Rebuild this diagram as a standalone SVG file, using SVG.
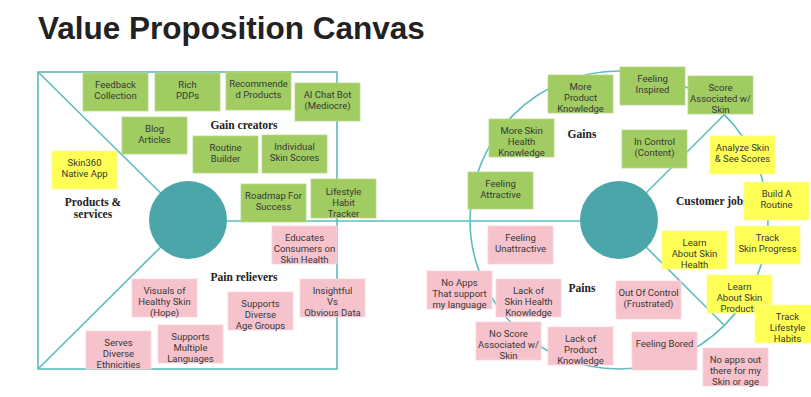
<svg xmlns="http://www.w3.org/2000/svg" width="811" height="397" viewBox="0 0 811 397">
<style>
.ln{fill:none;stroke:#5cbcbf;stroke-width:1.6}
.hub{fill:#4aa6a8}
.g{fill:#a0cc62;stroke:#b6d98a;stroke-width:0.8}
.y{fill:#ffff55;stroke:#fbfb9a;stroke-width:0.8}
.p{fill:#f6c3cc;stroke:#fad5dc;stroke-width:0.8}
.t{font-family:Roboto,"Liberation Sans",sans-serif;font-size:9.5px;fill:#383838;text-anchor:middle}
.lb{font-family:"Liberation Serif",serif;font-weight:bold;font-size:11.5px;fill:#222;text-anchor:middle}
.title{font-family:"Liberation Sans",Arial,sans-serif;font-weight:bold;font-size:31.5px;fill:#222}
</style>
<rect width="811" height="397" fill="#fff"/>
<text class="title" x="38" y="39">Value Proposition Canvas</text>

<g id="connectors">
  <rect class="ln" x="38" y="72" width="299" height="297"/>
  <line class="ln" x1="38" y1="72" x2="188" y2="220"/>
  <line class="ln" x1="38" y1="369" x2="188" y2="220"/>
  <circle class="ln" cx="619" cy="220" r="149"/>
  <line class="ln" x1="227" y1="221" x2="600" y2="221"/>
  <line class="ln" x1="619" y1="220" x2="724" y2="115"/>
  <line class="ln" x1="619" y1="220" x2="724" y2="325"/>
</g>

<g id="value-map-hub"><circle class="hub" cx="188" cy="220" r="39"/></g>
<g id="customer-hub"><circle class="hub" cx="619" cy="220" r="39"/></g>

<g id="labels">
  <text class="lb" x="244" y="128.5">Gain creators</text>
  <text class="lb" x="93" y="205.5">Products &amp;</text>
  <text class="lb" x="93" y="218">services</text>
  <text class="lb" x="244" y="281">Pain relievers</text>
  <text class="lb" x="582" y="137.5">Gains</text>
  <text class="lb" x="582" y="291.5">Pains</text>
  <text class="lb" x="676" y="205" style="text-anchor:start">Customer jobs</text>
</g>

<!-- Gain creators -->
<g id="feedback-collection"><rect class="g" x="83" y="73" width="65" height="38"/><text class="t"><tspan x="115.5" y="87.5">Feedback</tspan><tspan x="115.5" y="98.8">Collection</tspan></text></g>
<g id="rich-pdps"><rect class="g" x="155" y="73" width="65" height="38"/><text class="t"><tspan x="187.5" y="87.5">Rich</tspan><tspan x="187.5" y="98.8">PDPs</tspan></text></g>
<g id="recommended-products"><rect class="g" x="226" y="72" width="65" height="38"/><text class="t"><tspan x="258.5" y="86.5">Recommende</tspan><tspan x="258.5" y="97.8">d Products</tspan></text></g>
<g id="ai-chat-bot"><rect class="g" x="295" y="83" width="65" height="38"/><text class="t"><tspan x="327.5" y="97.5">AI Chat Bot</tspan><tspan x="327.5" y="108.8">(Mediocre)</tspan></text></g>
<g id="blog-articles"><rect class="g" x="122" y="117" width="65" height="37"/><text class="t"><tspan x="154.5" y="131.5">Blog</tspan><tspan x="154.5" y="142.8">Articles</tspan></text></g>
<g id="routine-builder"><rect class="g" x="193" y="136" width="65" height="37"/><text class="t"><tspan x="225.5" y="150.5">Routine</tspan><tspan x="225.5" y="161.8">Builder</tspan></text></g>
<g id="individual-skin-scores"><rect class="g" x="262" y="135" width="65" height="38"/><text class="t"><tspan x="294.5" y="149.5">Individual</tspan><tspan x="294.5" y="160.8">Skin Scores</tspan></text></g>
<g id="roadmap-for-success"><rect class="g" x="241" y="184" width="65" height="38"/><text class="t"><tspan x="273.5" y="198.5">Roadmap For</tspan><tspan x="273.5" y="209.8">Success</tspan></text></g>
<g id="lifestyle-habit-tracker"><rect class="g" x="311" y="179" width="65" height="39"/><text class="t"><tspan x="343.5" y="194.5">Lifestyle</tspan><tspan x="343.5" y="205.8">Habit</tspan><tspan x="343.5" y="217.1">Tracker</tspan></text></g>

<!-- Products & services -->
<g id="skin360-native-app"><rect class="y" x="52" y="151" width="65" height="38"/><text class="t"><tspan x="84.5" y="165.5">Skin360</tspan><tspan x="84.5" y="176.8">Native App</tspan></text></g>

<!-- Pain relievers -->
<g id="educates-consumers"><rect class="p" x="272" y="226" width="65" height="38"/><text class="t"><tspan x="304.5" y="240.5">Educates</tspan><tspan x="304.5" y="251.8">Consumers on</tspan><tspan x="304.5" y="263.1">Skin Health</tspan></text></g>
<g id="visuals-healthy-skin"><rect class="p" x="132" y="279" width="65" height="38"/><text class="t"><tspan x="164.5" y="293.5">Visuals of</tspan><tspan x="164.5" y="304.8">Healthy Skin</tspan><tspan x="164.5" y="316.1">(Hope)</tspan></text></g>
<g id="supports-diverse-age"><rect class="p" x="228" y="292" width="65" height="38"/><text class="t"><tspan x="260.5" y="306.5">Supports</tspan><tspan x="260.5" y="317.8">Diverse</tspan><tspan x="260.5" y="329.1">Age Groups</tspan></text></g>
<g id="insightful-data"><rect class="p" x="300" y="279" width="65" height="38"/><text class="t"><tspan x="332.5" y="293.5">Insightful</tspan><tspan x="332.5" y="304.8">Vs</tspan><tspan x="332.5" y="316.1">Obvious Data</tspan></text></g>
<g id="serves-diverse-ethnicities"><rect class="p" x="86" y="331" width="65" height="38"/><text class="t"><tspan x="118.5" y="345.5">Serves</tspan><tspan x="118.5" y="356.8">Diverse</tspan><tspan x="118.5" y="368.1">Ethnicities</tspan></text></g>
<g id="supports-multiple-languages"><rect class="p" x="158" y="325" width="65" height="38"/><text class="t"><tspan x="190.5" y="339.5">Supports</tspan><tspan x="190.5" y="350.8">Multiple</tspan><tspan x="190.5" y="362.1">Languages</tspan></text></g>

<!-- Gains -->
<g id="more-product-knowledge"><rect class="g" x="548" y="75" width="65" height="38"/><text class="t"><tspan x="580.5" y="89.5">More</tspan><tspan x="580.5" y="100.8">Product</tspan><tspan x="580.5" y="112.1">Knowledge</tspan></text></g>
<g id="feeling-inspired"><rect class="g" x="620" y="67" width="65" height="38"/><text class="t"><tspan x="652.5" y="81.5">Feeling</tspan><tspan x="652.5" y="92.8">Inspired</tspan></text></g>
<g id="score-associated-gain"><rect class="g" x="688" y="76" width="65" height="38"/><text class="t"><tspan x="720.5" y="90.5">Score</tspan><tspan x="720.5" y="101.8">Associated w/</tspan><tspan x="720.5" y="113.1">Skin</tspan></text></g>
<g id="more-skin-health-knowledge"><rect class="g" x="489" y="119" width="65" height="38"/><text class="t"><tspan x="521.5" y="133.5">More Skin</tspan><tspan x="521.5" y="144.8">Health</tspan><tspan x="521.5" y="156.1">Knowledge</tspan></text></g>
<g id="in-control"><rect class="g" x="622" y="130" width="65" height="38"/><text class="t"><tspan x="654.5" y="144.5">In Control</tspan><tspan x="654.5" y="155.8">(Content)</tspan></text></g>
<g id="feeling-attractive"><rect class="g" x="468" y="172" width="65" height="37"/><text class="t"><tspan x="500.5" y="186.5">Feeling</tspan><tspan x="500.5" y="197.8">Attractive</tspan></text></g>

<!-- Customer jobs -->
<g id="analyze-skin"><rect class="y" x="710" y="136" width="65" height="38"/><text class="t"><tspan x="742.5" y="150.5">Analyze Skin</tspan><tspan x="742.5" y="161.8">&amp; See Scores</tspan></text></g>
<g id="build-a-routine"><rect class="y" x="744" y="182" width="65" height="38"/><text class="t"><tspan x="776.5" y="196.5">Build A</tspan><tspan x="776.5" y="207.8">Routine</tspan></text></g>
<g id="track-skin-progress"><rect class="y" x="735" y="226" width="65" height="38"/><text class="t"><tspan x="767.5" y="240.5">Track</tspan><tspan x="767.5" y="251.8">Skin Progress</tspan></text></g>
<g id="learn-skin-health"><rect class="y" x="662" y="231" width="65" height="38"/><text class="t"><tspan x="694.5" y="245.5">Learn</tspan><tspan x="694.5" y="256.8">About Skin</tspan><tspan x="694.5" y="268.1">Health</tspan></text></g>
<g id="learn-skin-products"><rect class="y" x="707" y="275" width="65" height="38"/><text class="t"><tspan x="739.5" y="289.5">Learn</tspan><tspan x="739.5" y="300.8">About Skin</tspan><tspan x="739.5" y="312.1">Products</tspan></text></g>
<g id="track-lifestyle-habits"><rect class="y" x="755" y="305" width="65" height="38"/><text class="t"><tspan x="787.5" y="319.5">Track</tspan><tspan x="787.5" y="330.8">Lifestyle</tspan><tspan x="787.5" y="342.1">Habits</tspan></text></g>

<!-- Pains -->
<g id="feeling-unattractive"><rect class="p" x="488" y="226" width="65" height="38"/><text class="t"><tspan x="520.5" y="240.5">Feeling</tspan><tspan x="520.5" y="251.8">Unattractive</tspan></text></g>
<g id="no-apps-language"><rect class="p" x="427" y="271" width="65" height="38"/><text class="t"><tspan x="459.5" y="285.5">No Apps</tspan><tspan x="459.5" y="296.8">That support</tspan><tspan x="459.5" y="308.1">my language</tspan></text></g>
<g id="lack-skin-health-knowledge"><rect class="p" x="496" y="279" width="65" height="38"/><text class="t"><tspan x="528.5" y="293.5">Lack of</tspan><tspan x="528.5" y="304.8">Skin Health</tspan><tspan x="528.5" y="316.1">Knowledge</tspan></text></g>
<g id="no-score-associated"><rect class="p" x="476" y="322" width="65" height="38"/><text class="t"><tspan x="508.5" y="336.5">No Score</tspan><tspan x="508.5" y="347.8">Associated w/</tspan><tspan x="508.5" y="359.1">Skin</tspan></text></g>
<g id="lack-product-knowledge"><rect class="p" x="548" y="327" width="65" height="38"/><text class="t"><tspan x="580.5" y="341.5">Lack of</tspan><tspan x="580.5" y="352.8">Product</tspan><tspan x="580.5" y="364.1">Knowledge</tspan></text></g>
<g id="out-of-control"><rect class="p" x="616" y="281" width="65" height="38"/><text class="t"><tspan x="648.5" y="295.5">Out Of Control</tspan><tspan x="648.5" y="306.8">(Frustrated)</tspan></text></g>
<g id="feeling-bored"><rect class="p" x="632" y="332" width="65" height="38"/><text class="t"><tspan x="664.5" y="346.5">Feeling Bored</tspan></text></g>
<g id="no-apps-skin-age"><rect class="p" x="703" y="348" width="65" height="38"/><text class="t"><tspan x="735.5" y="362.5">No apps out</tspan><tspan x="735.5" y="373.8">there for my</tspan><tspan x="735.5" y="385.1">Skin or age</tspan></text></g>
</svg>
